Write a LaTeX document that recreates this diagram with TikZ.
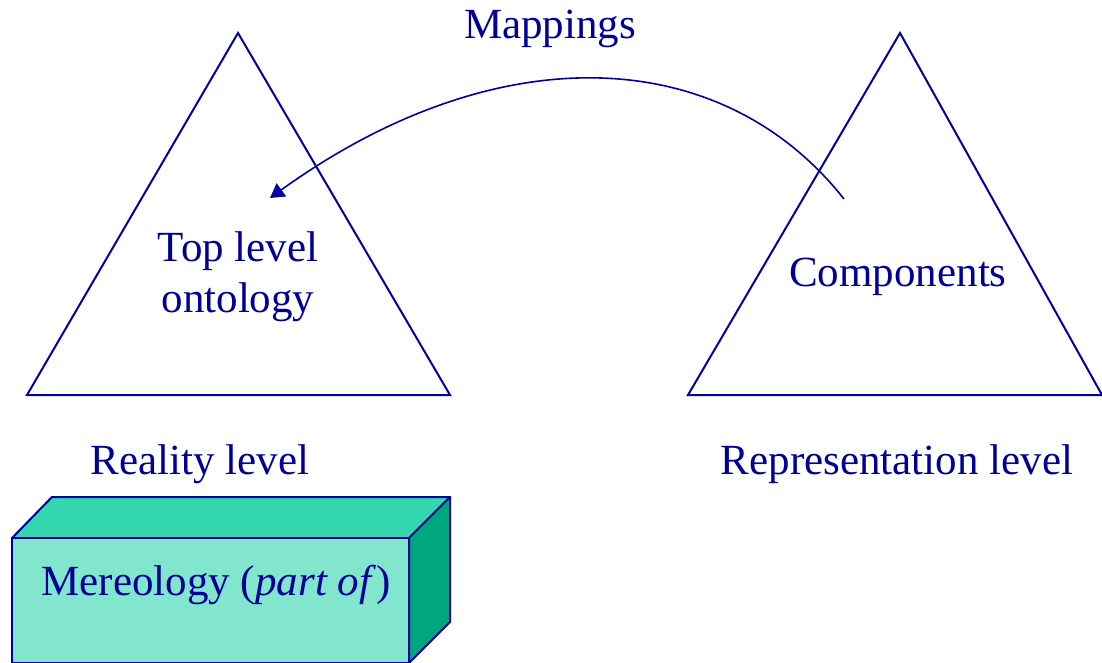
\documentclass[tikz,border=0pt]{standalone}
\usepackage{fontspec}
\setmainfont{Liberation Serif}
\usepackage{tikz}
\usetikzlibrary{arrows.meta, positioning, calc}
\definecolor{ontoNavy}{HTML}{000099}
\definecolor{ontoLine}{HTML}{0000A0}
\definecolor{boxFront}{HTML}{82E6CE}
\definecolor{boxTop}{HTML}{33D6AE}
\definecolor{boxSide}{HTML}{00A67C}

\begin{document}
\begin{tikzpicture}[
    x=0.5pt, y=-0.5pt,
    level/.style={line width=1pt, draw=ontoLine, line join=miter},
    label/.style={font=\fontsize{21.5}{25.5}\selectfont, text=ontoNavy, align=center, inner sep=0pt},
    face/.style={line width=1pt, draw=ontoLine, line join=round},
    mapping/.style={-{Triangle[length=7pt, width=8pt]}, line width=0.8pt, draw=ontoLine}
]
    \useasboundingbox (0,0) rectangle (1102,663);

    % triangles
    \coordinate (realTop) at (238,33);
    \coordinate (realLeft) at (27,395);
    \coordinate (realRight) at (450,395);
    \coordinate (repTop) at (900,33);
    \coordinate (repLeft) at (688,395);
    \coordinate (repRight) at (1102,395);
    \draw[level] (realTop) -- (realLeft) -- (realRight) -- cycle;
    \draw[level] (repTop) -- (repLeft) -- (repRight) -- cycle;

    \node[label] (onto) at (238,277) {Top level\\ontology};
    \node[label] (comp) at (898,277) {Components};
    \node[label] (reality) at (200,464) {Reality level};
    \node[label] (repr) at (897,464) {Representation level};

    % mapping arrow
    \coordinate (mapStart) at (844,199);
    \coordinate (mapEnd) at (270,198);
    \draw[mapping] (mapStart) .. controls (720,42) and (495,36) .. (mapEnd);
    \node[label] (mappings) at (550,29) {Mappings};

    % mereology box
    \coordinate (fA) at (12,538);
    \coordinate (fB) at (409,538);
    \coordinate (fC) at (409,663);
    \coordinate (fD) at (12,663);
    \coordinate (bA) at (52,497);
    \coordinate (bB) at (450,497);
    \coordinate (bC) at (450,622);
    \filldraw[face, fill=boxTop] (fA) -- (bA) -- (bB) -- (fB) -- cycle;
    \filldraw[face, fill=boxSide] (fB) -- (bB) -- (bC) -- (fC) -- cycle;
    \filldraw[face, fill=boxFront] (fA) rectangle (fC);
    \node[label] (mereo) at (216,585) {Mereology (\textit{part of})};
\end{tikzpicture}
\end{document}
